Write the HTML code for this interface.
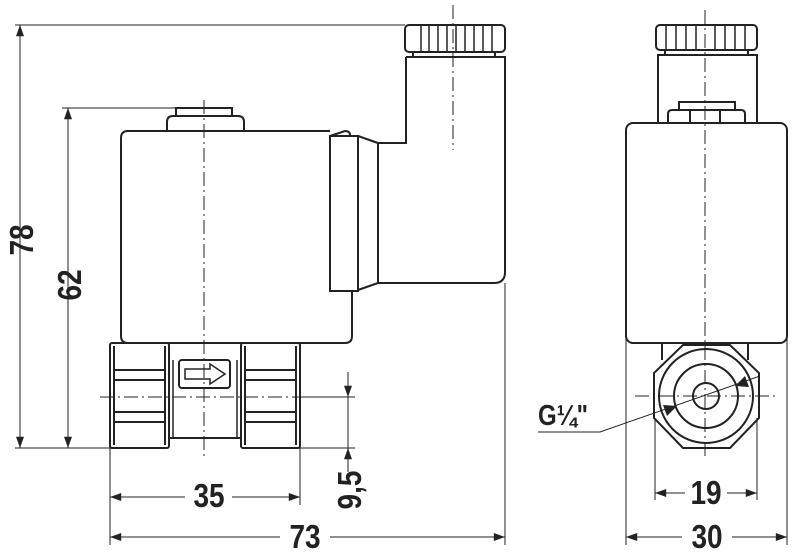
<!DOCTYPE html>
<html><head><meta charset="utf-8"><style>
html,body{margin:0;padding:0;background:#fff}
svg{display:block}
text{font-family:"Liberation Sans",sans-serif;font-weight:bold;fill:#222}
</style></head><body>
<svg width="800" height="553" viewBox="0 0 800 553" xmlns="http://www.w3.org/2000/svg">
<defs>
<marker id="a" viewBox="0 0 14 10" refX="14" refY="5" markerWidth="14" markerHeight="8" orient="auto-start-reverse" markerUnits="userSpaceOnUse"><path d="M0,0 L14,5 L0,10 z" fill="#222"/></marker>
</defs>
<g stroke="#222" fill="none">
<g stroke-width="1">
<line x1="15" y1="25" x2="405" y2="25"/>
<line x1="62" y1="108" x2="176" y2="108"/>
<line x1="15" y1="448" x2="110" y2="448"/>
<line x1="300" y1="448" x2="355" y2="448"/>
<line x1="300" y1="397" x2="355" y2="397"/>
<line x1="110" y1="448" x2="110" y2="545"/>
<line x1="300" y1="448" x2="300" y2="505"/>
<line x1="505" y1="283" x2="505" y2="545"/>
<line x1="626" y1="325" x2="626" y2="545"/>
<line x1="787" y1="325" x2="787" y2="545"/>
<line x1="655" y1="418" x2="655" y2="500"/>
<line x1="757" y1="418" x2="757" y2="500"/>
<line x1="20" y1="25" x2="20" y2="448" marker-start="url(#a)" marker-end="url(#a)"/>
<line x1="68" y1="108" x2="68" y2="448" marker-start="url(#a)" marker-end="url(#a)"/>
<line x1="110" y1="497" x2="185" y2="497" marker-start="url(#a)"/>
<line x1="232" y1="497" x2="300" y2="497" marker-end="url(#a)"/>
<line x1="110" y1="537" x2="280" y2="537" marker-start="url(#a)"/>
<line x1="330" y1="537" x2="505" y2="537" marker-end="url(#a)"/>
<line x1="348" y1="372" x2="348" y2="397" marker-end="url(#a)"/>
<line x1="348" y1="472" x2="348" y2="448" marker-end="url(#a)"/>
<line x1="348" y1="397" x2="348" y2="448"/>
<line x1="655" y1="493" x2="685" y2="493" marker-start="url(#a)"/>
<line x1="727" y1="493" x2="757" y2="493" marker-end="url(#a)"/>
<line x1="626" y1="537" x2="682" y2="537" marker-start="url(#a)"/>
<line x1="732" y1="537" x2="787" y2="537" marker-end="url(#a)"/>
<polyline points="538,432 600,432 760,376"/>
</g>
<g stroke-width="1" stroke-dasharray="14,4,2,4">
<line x1="204" y1="100" x2="204" y2="460"/>
<line x1="453" y1="5" x2="453" y2="150"/>
<line x1="100" y1="397" x2="300" y2="397"/>
<line x1="705" y1="10" x2="705" y2="460"/>
<line x1="635" y1="396" x2="778" y2="396"/>
</g>
<g stroke-width="2">
<rect x="405" y="25" width="100" height="27" rx="4"/>
<line x1="413" y1="52" x2="413" y2="57"/><line x1="495" y1="52" x2="495" y2="57"/>
<line x1="413" y1="52" x2="495" y2="52"/>
<g stroke-width="1.5">
<line x1="421" y1="26" x2="421" y2="51"/><line x1="429" y1="26" x2="429" y2="51"/><line x1="438" y1="26" x2="438" y2="51"/><line x1="447" y1="26" x2="447" y2="51"/><line x1="456" y1="26" x2="456" y2="51"/><line x1="465" y1="26" x2="465" y2="51"/><line x1="474" y1="26" x2="474" y2="51"/><line x1="483" y1="26" x2="483" y2="51"/><line x1="492" y1="26" x2="492" y2="51"/>
</g>
<path d="M406,57 L505,57 L505,272 Q505,283 494,283 L378,283 M406,57 L406,143 L378,143"/>
<path d="M358,136 L378,143 L378,283 L358,290"/>
<rect x="330" y="136" width="28" height="155"/>
<path d="M330,131 L128,131 Q121,131 121,138 L121,336 Q121,343 128,343 L345,343 Q352,343 352,336 L352,291"/>
<path d="M330,136 L345,131 Q350,131 350,135"/>
<path d="M167,131 L167,122 Q167,116 173,116 L238,116 Q244,116 244,122 L244,131"/>
<rect x="176" y="108" width="56" height="8"/>
<rect x="110" y="343" width="59" height="105" rx="2"/>
<rect x="241" y="343" width="59" height="105" rx="2"/>
<path d="M169,343 L241,343 M169,438 L241,438"/>
<g stroke-width="2">
<line x1="114" y1="346" x2="114" y2="445"/><line x1="296" y1="346" x2="296" y2="445"/>
<line x1="165" y1="346" x2="165" y2="445"/><line x1="245" y1="346" x2="245" y2="445"/>
<line x1="114" y1="370" x2="166" y2="370"/><line x1="114" y1="380" x2="166" y2="380"/>
<line x1="114" y1="412" x2="166" y2="412"/><line x1="114" y1="422" x2="166" y2="422"/>
<line x1="244" y1="370" x2="297" y2="370"/><line x1="244" y1="380" x2="297" y2="380"/>
<line x1="244" y1="412" x2="297" y2="412"/><line x1="244" y1="422" x2="297" y2="422"/>
</g>
<g stroke-width="1.5">
<line x1="173" y1="360" x2="173" y2="438"/><line x1="237" y1="360" x2="237" y2="438"/>
</g>
<rect x="179" y="360" width="51" height="28" rx="3"/>
<path d="M185,369 L210,369 L210,364 L225,374 L210,384 L210,379 L185,379 Z" stroke-width="1.5"/>
<rect x="656" y="25" width="101" height="25" rx="4"/>
<g stroke-width="1.5">
<line x1="666" y1="26" x2="666" y2="49"/><line x1="676" y1="26" x2="676" y2="49"/><line x1="686" y1="26" x2="686" y2="49"/><line x1="696" y1="26" x2="696" y2="49"/><line x1="715" y1="26" x2="715" y2="49"/><line x1="725" y1="26" x2="725" y2="49"/><line x1="735" y1="26" x2="735" y2="49"/><line x1="745" y1="26" x2="745" y2="49"/>
</g>
<path d="M665,50 L665,55 M748,50 L748,55"/>
<rect x="658" y="55" width="99" height="68"/>
<path d="M668,123 L668,114 Q668,110 672,110 L741,110 Q745,110 745,114 L745,123 M690,110 L690,123 M720,110 L720,123"/>
<rect x="679" y="102" width="56" height="8"/>
<rect x="626" y="123" width="161" height="220" rx="7"/>
<path d="M662,343 L662,360 M748,343 L748,360"/>
<path d="M683,345 L730,345 L759,373 L759,418 L730,448 L683,448 L654,418 L654,373 Z"/>
<circle cx="706" cy="396" r="47"/>
<circle cx="706" cy="396" r="32"/>
<circle cx="706" cy="396" r="13"/>
</g>
<path d="M677,406 L663,405 L667,416 Z M735,386 L749,387 L745,376 Z" fill="#222" stroke="none"/>
</g>
<g font-size="28">
<text transform="translate(33,240) rotate(-90) scale(1,1.2)" text-anchor="middle">78</text>
<text transform="translate(81,285) rotate(-90) scale(1,1.2)" text-anchor="middle">62</text>
<text transform="translate(361,490) rotate(-90) scale(1,1.2)" text-anchor="middle">9,5</text>
<text transform="translate(209,507) scale(1,1.2)" text-anchor="middle">35</text>
<text transform="translate(305,548) scale(1,1.2)" text-anchor="middle">73</text>
<text transform="translate(706,504) scale(1,1.2)" text-anchor="middle">19</text>
<text transform="translate(707,548) scale(1,1.2)" text-anchor="middle">30</text>
<text transform="translate(538,425) scale(1,1.2)" font-size="24">G¼"</text>
</g>
</svg>
</body></html>
